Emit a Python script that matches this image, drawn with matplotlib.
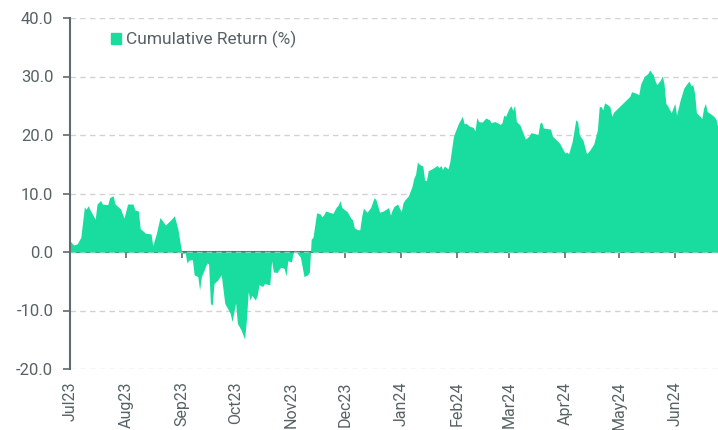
import datetime

import pandas as pd
import matplotlib
matplotlib.use("Agg")
from matplotlib import pyplot as plt
import matplotlib.dates as mdates
from matplotlib.patches import Patch
from matplotlib.ticker import FormatStrFormatter, MultipleLocator

plt.rcParams['font.family'] = ['Roboto', 'DejaVu Sans']

# values (cumulative return in %)
dates = [
    "2023-07-01", "2023-07-03", "2023-07-05", "2023-07-07", "2023-07-09", "2023-07-10",
    "2023-07-11", "2023-07-12", "2023-07-15", "2023-07-16", "2023-07-18", "2023-07-19",
    "2023-07-22", "2023-07-23", "2023-07-25", "2023-07-26", "2023-07-29", "2023-07-31",
    "2023-08-02", "2023-08-05", "2023-08-06", "2023-08-08", "2023-08-09", "2023-08-12",
    "2023-08-15", "2023-08-16", "2023-08-18", "2023-08-20", "2023-08-21", "2023-08-23",
    "2023-08-26", "2023-08-28", "2023-08-30", "2023-09-01", "2023-09-02", "2023-09-03",
    "2023-09-04", "2023-09-05", "2023-09-07", "2023-09-08", "2023-09-10", "2023-09-11",
    "2023-09-12", "2023-09-13", "2023-09-15", "2023-09-16", "2023-09-17", "2023-09-18",
    "2023-09-19", "2023-09-21", "2023-09-23", "2023-09-25", "2023-09-27", "2023-09-28",
    "2023-09-29", "2023-10-01", "2023-10-02", "2023-10-04", "2023-10-06", "2023-10-07",
    "2023-10-08", "2023-10-09", "2023-10-10", "2023-10-12", "2023-10-13", "2023-10-14",
    "2023-10-16", "2023-10-17", "2023-10-20", "2023-10-21", "2023-10-22", "2023-10-24",
    "2023-10-26", "2023-10-28", "2023-10-29", "2023-10-30", "2023-11-01", "2023-11-02",
    "2023-11-03", "2023-11-05", "2023-11-06", "2023-11-08", "2023-11-10", "2023-11-11",
    "2023-11-12", "2023-11-13", "2023-11-15", "2023-11-17", "2023-11-18", "2023-11-19",
    "2023-11-20", "2023-11-22", "2023-11-24", "2023-11-26", "2023-11-27", "2023-11-28",
    "2023-11-29", "2023-12-02", "2023-12-04", "2023-12-05", "2023-12-06", "2023-12-08",
    "2023-12-09", "2023-12-10", "2023-12-11", "2023-12-13", "2023-12-15", "2023-12-17",
    "2023-12-18", "2023-12-20", "2023-12-22", "2023-12-24", "2023-12-25", "2023-12-26",
    "2023-12-27", "2023-12-28", "2023-12-30", "2024-01-01", "2024-01-02", "2024-01-03",
    "2024-01-05", "2024-01-07", "2024-01-08", "2024-01-09", "2024-01-10", "2024-01-11",
    "2024-01-13", "2024-01-14", "2024-01-15", "2024-01-16", "2024-01-18", "2024-01-21",
    "2024-01-22", "2024-01-23", "2024-01-24", "2024-01-25", "2024-01-27", "2024-01-28",
    "2024-01-30", "2024-01-31", "2024-02-02", "2024-02-04", "2024-02-05", "2024-02-06",
    "2024-02-08", "2024-02-10", "2024-02-11", "2024-02-12", "2024-02-13", "2024-02-15",
    "2024-02-17", "2024-02-19", "2024-02-20", "2024-02-22", "2024-02-24", "2024-02-25",
    "2024-02-26", "2024-02-27", "2024-02-28", "2024-03-01", "2024-03-02", "2024-03-03",
    "2024-03-04", "2024-03-05", "2024-03-07", "2024-03-10", "2024-03-12", "2024-03-13",
    "2024-03-17", "2024-03-18", "2024-03-19", "2024-03-20", "2024-03-24", "2024-03-25",
    "2024-03-29", "2024-04-01", "2024-04-02", "2024-04-03", "2024-04-05", "2024-04-07",
    "2024-04-08", "2024-04-09", "2024-04-11", "2024-04-12", "2024-04-13", "2024-04-15",
    "2024-04-17", "2024-04-19", "2024-04-20", "2024-04-21", "2024-04-22", "2024-04-23",
    "2024-04-25", "2024-04-26", "2024-04-27", "2024-04-28", "2024-05-03", "2024-05-07",
    "2024-05-08", "2024-05-10", "2024-05-12", "2024-05-13", "2024-05-15", "2024-05-17",
    "2024-05-18", "2024-05-20", "2024-05-21", "2024-05-22", "2024-05-24", "2024-05-25",
    "2024-05-26", "2024-05-27", "2024-05-28", "2024-05-30", "2024-06-01", "2024-06-02",
    "2024-06-04", "2024-06-06", "2024-06-08", "2024-06-09", "2024-06-10", "2024-06-11",
    "2024-06-12", "2024-06-13", "2024-06-15", "2024-06-16", "2024-06-17", "2024-06-18",
    "2024-06-19", "2024-06-21", "2024-06-23", "2024-06-24", "2024-06-25",
]
cum_return = [
    1.9, 1.2, 1.4, 2.5, 7.7, 7.3,
    7.9, 7.3, 5.6, 8.2, 8.8, 8.2,
    8.1, 9.3, 9.6, 8.2, 7.4, 5.8,
    8.2, 8.2, 7.2, 7.0, 4.0, 3.2,
    3.1, 1.1, 3.2, 5.9, 5.5, 4.6,
    5.5, 6.2, 3.8, 0.0, -0.3, -0.1,
    -1.9, -1.4, -1.3, -3.9, -4.2, -6.5,
    -4.2, -3.5, -1.9, -2.0, -8.8, -9.1,
    -5.4, -4.8, -3.9, -8.8, -9.9, -10.5,
    -11.9, -8.7, -12.2, -13.3, -14.9, -11.6,
    -6.8, -8.2, -7.4, -8.2, -7.4, -5.6,
    -5.9, -5.4, -5.6, -1.5, -3.4, -3.5,
    -2.6, -2.8, -4.1, -1.5, -1.7, -0.2,
    0.3, -0.5, -0.9, -4.2, -3.9, -3.4,
    2.2, 2.5, 6.7, 6.5, 6.0, 6.4,
    7.0, 6.8, 6.6, 7.7, 8.0, 8.8,
    7.6, 6.9, 5.8, 5.5, 4.1, 3.8,
    3.8, 6.0, 7.5, 6.8, 7.6, 9.3,
    8.9, 6.8, 7.0, 7.4, 7.6, 6.3,
    7.2, 7.8, 8.2, 6.9, 8.4, 8.9,
    9.6, 11.2, 12.6, 13.3, 15.4, 15.0,
    14.7, 12.3, 12.2, 13.9, 14.2, 14.8,
    14.4, 14.8, 14.1, 14.7, 14.2, 15.4,
    19.7, 20.6, 22.1, 23.2, 21.9, 22.0,
    21.5, 21.3, 20.7, 23.0, 22.3, 22.2,
    22.9, 22.6, 22.1, 22.3, 22.0, 21.8,
    22.1, 23.4, 23.2, 24.6, 25.0, 24.2,
    25.1, 22.3, 21.7, 19.3, 19.8, 20.4,
    20.1, 22.0, 22.2, 21.2, 21.0, 19.8,
    18.6, 16.9, 17.1, 16.8, 18.9, 22.6,
    22.3, 20.0, 19.1, 17.9, 16.8, 17.5,
    18.5, 20.9, 24.8, 24.9, 24.3, 25.5,
    25.1, 24.8, 23.2, 23.9, 25.4, 26.6,
    27.4, 27.2, 26.9, 28.7, 30.0, 30.5,
    31.1, 30.3, 29.3, 28.6, 29.4, 30.1,
    28.8, 25.4, 25.0, 23.8, 25.4, 23.4,
    26.0, 28.0, 28.9, 29.2, 28.4, 28.6,
    27.1, 23.8, 23.2, 22.8, 24.6, 25.4,
    24.0, 23.6, 23.1, 22.6, 21.1,
]

fill_color = "#19dc9f"
text_color = "#566264"
axis_color = "#5f6b6d"

df = pd.DataFrame({"date": pd.to_datetime(dates), "ret": cum_return})

fig = plt.figure(figsize=(7.18, 4.30), dpi=100)
ax = fig.add_axes([70 / 718, 1 - 369 / 430, 648 / 718, (369 - 18) / 430])

ax.fill_between(df["date"], 0, df["ret"], color=fill_color, linewidth=0, zorder=2)

ax.set_xlim(datetime.date(2023, 7, 1), datetime.date(2024, 6, 25))
ax.set_ylim(-20, 40)

ax.yaxis.set_major_locator(MultipleLocator(10))
ax.yaxis.set_major_formatter(FormatStrFormatter('%.1f'))
ax.grid(axis='y', color="#d2d2d2", linestyle=(0, (4, 3)), linewidth=1, zorder=0)

ax.xaxis.set_major_locator(mdates.MonthLocator())
ax.xaxis.set_major_formatter(mdates.DateFormatter('%b%y'))
ax.tick_params(axis='x', length=0, pad=9, labelsize=11.5, labelcolor=text_color, labelrotation=90)
ax.tick_params(axis='y', length=5, width=1.2, color=axis_color, pad=7, labelsize=12, labelcolor=text_color)

for side in ['top', 'right', 'bottom']:
    ax.spines[side].set_visible(False)
ax.spines['left'].set_color(axis_color)
ax.spines['left'].set_linewidth(1.5)

# zero line with month ticks
zero_axis = ax.secondary_xaxis(1 / 3)
zero_axis.xaxis.set_major_locator(mdates.MonthLocator())
zero_axis.tick_params(axis='x', length=4, width=1.2, color=axis_color, labelbottom=False, labeltop=False)
zero_axis.spines['bottom'].set_color(axis_color)
zero_axis.spines['bottom'].set_linewidth(1.5)
zero_axis.spines['bottom'].set_zorder(3)

ax.legend(handles=[Patch(color=fill_color, label="Cumulative Return (%)")],
          loc='upper left', bbox_to_anchor=(0.039, 1.008), frameon=False,
          handlelength=0.6, handleheight=0.6, handletextpad=0.25,
          fontsize=12.5, labelcolor=text_color)

plt.savefig("out.png", dpi=100)
